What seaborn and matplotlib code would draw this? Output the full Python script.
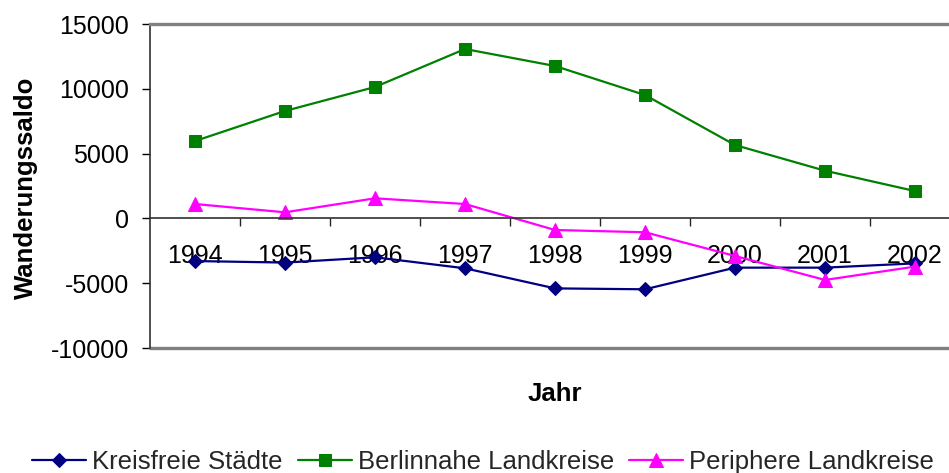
import numpy as np
import pandas as pd
import seaborn as sns
import matplotlib.pyplot as plt

years = ['1994', '1995', '1996', '1997', '1998', '1999', '2000', '2001', '2002']
kreisfreie = [-3290, -3410, -3000, -3850, -5400, -5470, -3800, -3800, -3470]
berlinnahe = [5970, 8290, 10140, 13070, 11760, 9520, 5660, 3680, 2110]
periphere = [1110, 470, 1550, 1110, -895, -1070, -2900, -4750, -3720]
series_names = ['Kreisfreie Städte', 'Berlinnahe Landkreise', 'Periphere Landkreise']

sns.set_style('white')
plt.rcParams['font.family'] = ['Liberation Sans', 'DejaVu Sans']
plt.rcParams['axes.unicode_minus'] = False

fig = plt.figure(figsize=(9.49, 4.73), dpi=100)
ax = fig.add_axes([150/949, 1-348/473, 810/949, 324/473])

pos = np.arange(len(years))
styles = [('#000080', 'D', 7.5), ('#008000', 's', 9), ('#FF00FF', '^', 10.5)]
for vals, name, (col, mk, ms) in zip([kreisfreie, berlinnahe, periphere], series_names, styles):
    df = pd.DataFrame({'x': pos, 'y': vals})
    sns.lineplot(data=df, x='x', y='y', ax=ax, color=col, marker=mk, markersize=ms,
                 markeredgecolor=col, linewidth=1.6, label=name)

ax.set_xlim(-0.5, len(years) - 0.5)
ax.set_ylim(-10000, 15000)
ax.set_yticks(np.arange(-10000, 15001, 5000))
ax.tick_params(axis='y', direction='out', length=6, width=1, left=True, labelsize=18, pad=9,
               colors='black')

# x axis runs along zero
ax.spines['bottom'].set_position(('data', 0))
ax.spines['bottom'].set_color('#303030')
ax.spines['left'].set_color('#303030')
ax.spines['top'].set_color('#808080')
ax.spines['right'].set_color('#808080')
for s in ax.spines.values():
    s.set_linewidth(1.2)
ax.axhline(-10000, color='#808080', linewidth=2.4, clip_on=False)
ax.spines['top'].set_linewidth(2.4)

ax.set_xticks(pos[:-1] + 0.5)
ax.set_xticklabels([])
ax.set_xticks(pos, minor=True)
ax.set_xticklabels(years, minor=True)
ax.tick_params(axis='x', which='major', direction='out', length=6, width=1, bottom=True)
ax.tick_params(axis='x', which='minor', length=0, labelsize=18, pad=18.5, colors='black')

ax.set_ylabel('Wanderungssaldo', fontsize=18.5, fontweight='bold', color='black')
ax.yaxis.set_label_coords(-0.138, 0.494)
ax.set_xlabel('Jahr', fontsize=18.5, fontweight='bold', color='black')
ax.xaxis.set_label_coords(0.5, -0.106)

ax.legend(loc='center', bbox_to_anchor=(483/949, 11/473), bbox_transform=fig.transFigure,
          ncol=3, frameon=False, fontsize=18.5, handlelength=2.1, handletextpad=0.23,
          columnspacing=0.58, borderaxespad=0, borderpad=0)

fig.savefig('out.png', dpi=100)
